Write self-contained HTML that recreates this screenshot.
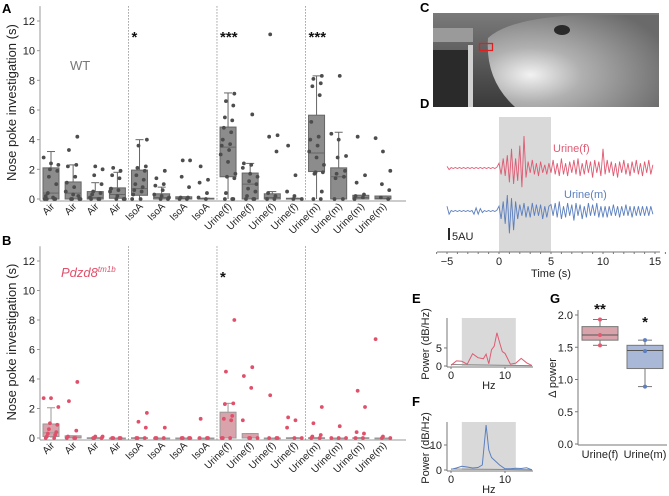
<!DOCTYPE html>
<html><head><meta charset="utf-8">
<style>
html,body{margin:0;padding:0;background:#fff;}
svg{display:block;font-family:"Liberation Sans",sans-serif;}
</style></head>
<body>
<svg id="fig" width="669" height="496" viewBox="0 0 669 496" xmlns="http://www.w3.org/2000/svg">
<g id="pA"></g>
<g id="pB"></g>
<g id="pC">
 <defs>
  <radialGradient id="mouseG" cx="0.25" cy="0.65" r="0.85">
   <stop offset="0" stop-color="#f2f2f2"/><stop offset="0.35" stop-color="#b0b0b0"/><stop offset="1" stop-color="#6a6a6a"/>
  </radialGradient>
  <linearGradient id="bgG" x1="0" y1="0" x2="0" y2="1">
   <stop offset="0" stop-color="#7a7a7a"/><stop offset="1" stop-color="#3a3a3a"/>
  </linearGradient>
 </defs>
 <rect x="433" y="13" width="226" height="94" fill="url(#bgG)"/>
 <rect x="433" y="28" width="40" height="14" fill="#9a9a9a"/>
 <rect x="433" y="50" width="40" height="57" fill="#2a2a2a"/>
 <rect x="468" y="45" width="5" height="62" fill="#d0d0d0"/>
 <path d="M488,38 Q510,18 580,15 L659,15 L659,107 L515,107 Q485,80 488,38 Z" fill="url(#mouseG)"/>
 <ellipse cx="562" cy="30" rx="8" ry="5" fill="#2a2a2a"/>
 <rect x="479.5" y="43.5" width="13" height="7" fill="none" stroke="#e02020" stroke-width="1.3"/>
</g>
<g id="pD"></g>
<g id="pE"></g>
<g id="pF"></g>
<g id="pG"></g>
<text x="2" y="13" font-size="13" font-weight="bold">A</text>
<text x="2" y="245" font-size="13" font-weight="bold">B</text>
<text x="420" y="12" font-size="13" font-weight="bold">C</text>
<text x="420" y="108" font-size="13" font-weight="bold">D</text>
<text x="412" y="303" font-size="13" font-weight="bold">E</text>
<text x="412" y="406" font-size="13" font-weight="bold">F</text>
<text x="550" y="303" font-size="13" font-weight="bold">G</text>
</svg>
<script>
var NS="http://www.w3.org/2000/svg";
// ---- Data: panels A/B ----
var categories=["Air","Air","Air","Air","IsoA","IsoA","IsoA","IsoA","Urine(f)","Urine(f)","Urine(f)","Urine(f)","Urine(m)","Urine(m)","Urine(m)","Urine(m)"];
var yTicksAB=[0,2,4,6,8,10,12];
var wtQ1=[0,0,0,0.05,0.25,0,0,0,1.5,0,0,0,1.85,0,0,0];
var wtMed=[0.4,0.4,0.1,0.3,0.7,0.1,0.05,0,3.5,1.0,0.1,0,3.1,1.5,0.1,0.05];
var wtQ3=[2.1,1.15,0.5,0.75,1.95,0.35,0.15,0.05,4.85,1.75,0.35,0.05,5.65,2.1,0.25,0.2];
var wtWhLo=[0,0,0,0,0,0,0,0,0,0,0,0,0,0,0,0];
var wtWhHi=[3.2,2.3,1.1,1.8,4.0,0.8,0.15,0.05,7.15,2.4,0.5,0.05,8.3,4.5,0.25,0.2];
var wtPoints=[
[2.8,2.4,2.3,2.0,1.9,1.5,1.0,0.4,0,0,0,0.2,0.1,0],
[4.2,3.3,2.3,2.2,1.5,1.1,0.8,0.5,0.3,0,0,0,0,0.2],
[2.2,2.0,1.6,1.0,0.5,0.4,0.3,0,0,0,0.1],
[2.1,1.9,1.6,1.4,0.7,0.6,0.5,0.2,0,0,0],
[4.0,3.6,2.2,2.1,1.9,1.6,1.3,1.0,0.8,0.6,0.5,0.3,0,0],
[1.9,1.4,1.0,0.9,0.6,0.3,0.2,0.1,0,0],
[2.6,2.6,1.5,0.8,0.1,0.1,0,0],
[2.2,1.3,1.1,0.4,0.1,0],
[7.1,6.6,6.3,5.5,5.3,4.8,4.5,4.0,3.7,3.6,3.3,3.0,2.5,1.7,1.5,1.4,0.4,0,0,0],
[5.7,2.4,2.3,2.1,1.7,1.5,1.2,1.0,0.7,0.5,0.2,0,0,0],
[11.1,4.3,4.2,3.2,0.4,0.2,0,0],
[3.6,1.6,0.5,0.2,0,0],
[8.3,8.1,7.8,7.6,7.0,5.2,4.2,4.0,3.6,3.2,2.8,2.3,1.8,1.8,1.7,0.5,0,0],
[8.3,4.4,4.0,2.9,2.8,1.9,1.7,1.5,1.4,0,0],
[4.2,1.6,1.1,0.3,0.2,0.1,0],
[4.1,3.2,1.9,1.0,0.6,0.1,0]];
var koQ1=[0.1,0,0,0,0,0,0,0,0,0,0,0,0,0,0,0];
var koMed=[0.35,0.05,0,0,0,0,0,0,0,0,0,0,0,0,0,0];
var koQ3=[0.95,0.15,0.02,0,0.02,0,0,0,1.75,0.3,0,0.02,0.02,0,0.02,0];
var koWhLo=[0,0,0,0,0,0,0,0,0,0,0,0,0,0,0,0];
var koWhHi=[2.05,0.15,0.02,0,0.02,0,0,0,2.35,0.3,0,0.02,0.02,0,0.02,0];
var koPoints=[
[2.7,2.7,2.1,1.0,0.9,0.6,0.4,0.3,0.2,0.1,0,0],
[3.8,2.5,0.5,0.1,0,0,0],
[0.1,0.1,0,0,0],
[0,0,0,0],
[1.7,1.1,0.7,0,0,0],
[0.7,0,0,0],
[0,0,0,0],
[1.3,0,0,0],
[8.0,4.5,2.35,2.3,1.5,1.3,1.2,0,0,0],
[4.8,4.2,3.4,1.2,0,0,0],
[2.9,0,0,0],
[1.4,1.2,0.7,0,0],
[2.1,1.0,0.2,0.1,0,0],
[0.8,0,0,0],
[3.2,2.1,0.4,0.3,0,0],
[6.7,0.1,0,0]];
// ---- Data: panel D ----
var traceTime0=-5, traceStep=0.2;
var traceF=[1,-1,0.3,-0.3,0.3,-0.3,0.3,-0.3,0.3,-0.3,0.3,-0.3,0.3,-0.3,0.3,-0.3,0.3,-0.3,0.3,-0.3,0.3,-0.3,0.3,-0.3,0.5,
3,-4,6,-5,8,-9,12,-10,6,-8,14,-12,20,-6,4,-3,5,-4,3,-5,4,-3,2,-4,3,
-3,5,-4,3,-5,6,-4,3,-5,4,-3,5,-4,6,-5,3,-4,5,-3,4,-6,5,-3,4,-5,12,-4,5,-3,4,-5,3,-6,4,-3,5,-4,3,-5,4,-3,5,-4,3,-5,4,-3,5,-4,2];
var traceM=[3,-2,0.3,-0.3,0.3,-0.3,0.3,-0.3,0.3,-0.3,0.3,-0.3,0.3,-2,2,-2,1.5,-1,0.3,-0.3,0.3,-0.3,0.3,-0.3,0.5,
3,-5,6,-8,10,-14,8,-12,6,-5,4,-3,5,-4,3,-4,5,-3,4,-3,4,-5,3,-4,3,
4,-3,5,-4,6,-5,3,-4,5,-3,4,-6,5,-3,4,-5,3,-4,5,-3,4,-3,5,-4,3,-4,3,-4,3,-3,4,-3,3,-4,3,-3,4,-3,3,-4,3,-3,3,-3,3,-3,3,-3,3,-2];
var timeTicks=[-5,0,5,10,15];
// ---- Data: panels E/F ----
var specHzE=[0,1,2,3,4,5,6,6.5,7,7.5,8,8.5,9,9.5,10,11,12,13,14,15];
var specE=[0.2,1.4,1.3,0.5,3.4,2.3,2.0,3.3,0.6,4.5,5.5,9.2,6.5,4.0,3.5,0.5,0.8,2.1,0.9,0.1];
var specHzF=[0,1,2,3,4,5,5.8,6.5,7,7.5,8,9,10,11,12,13,14,14.5,15];
var specF=[0.3,0.8,1.5,1.2,0.8,1.0,2,18,8,5,4,2,0.5,0.5,0.7,0.6,0.9,0.5,0.1];
var baseHz=[0,15];
var baseE=[0.4,0.1];
var baseF=[0.4,0.1];
// ---- Data: panel G ----
var gCats=["Urine(f)","Urine(m)"];
var gQ1=[1.61,1.17], gMed=[1.69,1.45], gQ3=[1.82,1.53], gLo=[1.53,0.89], gHi=[1.93,1.61];
var gPoints=[[1.93,1.69,1.53],[1.61,1.44,0.89]];
var gTicks=[0,0.5,1.0,1.5,2.0];

function mk(parent,tag,attrs,txt){var e=document.createElementNS(NS,tag);for(var k in attrs)e.setAttribute(k,attrs[k]);if(txt!==undefined)e.textContent=txt;parent.appendChild(e);return e;}

function boxPanel(gid,y0,yTop,q1,med,q3,lo,hi,pts,boxFill,boxStroke,dotColor,label,stars){
  var g=document.getElementById(gid);
  var yS=function(v){return y0-(y0-yTop)*v/12;};
  var xS=function(i){return 51+i*22.13;};
  var ax=mk(g,"line",{x1:40,y1:yS(13),x2:40,y2:y0+2,stroke:"#999","stroke-width":1});
  
  
  var bx=mk(g,"line",{x1:40,y1:y0+2,x2:406,y2:y0+2,stroke:"#999","stroke-width":1});
  
  
  yTicksAB.forEach(function(t){
    var tk=mk(g,"line",{x1:37,x2:40,y1:yS(t),y2:yS(t),stroke:"#999"});
    
    
    var tl=mk(g,"text",{x:35,y:yS(t)+4,"text-anchor":"end","font-size":11,fill:"#222"},t);
    
    
  });
  [3.5,7.5,11.5].forEach(function(d){
    var dl=mk(g,"line",{x1:xS(d),x2:xS(d),y1:yS(13),y2:y0+2,stroke:"#888","stroke-dasharray":"1.5,1.5","stroke-width":0.8});
    
    
  });
  var yt=mk(g,"text",{transform:"translate(16,"+((y0+yS(13))/2)+") rotate(-90)","text-anchor":"middle","font-size":13,fill:"#222"},"Nose poke investigation (s)");
  
  
  categories.forEach(function(c,i){
    var cx=xS(i), hw=8;
    var wl=mk(g,"line",{x1:cx,x2:cx,y1:yS(hi[i]),y2:yS(lo[i]),stroke:boxStroke,"stroke-width":1});
    
    
    var wc=mk(g,"line",{x1:cx-4,x2:cx+4,y1:yS(hi[i]),y2:yS(hi[i]),stroke:boxStroke,"stroke-width":1});
    
    
    var h=Math.max(yS(q1[i])-yS(q3[i]),0.8);
    var r=mk(g,"rect",{x:cx-hw,y:yS(q3[i]),width:2*hw,height:h,fill:boxFill,stroke:boxStroke,"stroke-width":1});
    
    
    var ml=mk(g,"line",{x1:cx-hw,x2:cx+hw,y1:yS(med[i]),y2:yS(med[i]),stroke:boxStroke,"stroke-width":1});
    
    
    pts[i].forEach(function(v,j){
      var jx=((j*37+i*11)%15-7)*1.05;
      var p=mk(g,"circle",{cx:cx+jx,cy:yS(v),r:1.9,fill:dotColor});
      
      
    });
    var lx=cx+4, ly=y0+8;
    var xl=mk(g,"text",{transform:"translate("+lx+","+ly+") rotate(-45)","text-anchor":"end","font-size":10,fill:"#222"},c);
    
    
  });
  stars.forEach(function(s){
    var st=mk(g,"text",{x:xS(s[0])-8,y:yS(11)+6,"font-size":15,"font-weight":"bold",fill:"#111"},s[1]);
    
    
  });
  return {g:g,yS:yS,xS:xS};
}
var A=boxPanel("pA",199,21,wtQ1,wtMed,wtQ3,wtWhLo,wtWhHi,wtPoints,"#8c8c8c","#666","#4d4d4d","WT",[[4,"*"],[8,"***"],[12,"***"]]);
var wt=mk(A.g,"text",{x:70,y:70,"font-size":13,fill:"#777"},"WT");


var B=boxPanel("pB",438,261,koQ1,koMed,koQ3,koWhLo,koWhHi,koPoints,"#d9a3ab","#999","#e0506a","",[[8,"*"]]);
var pz=mk(B.g,"text",{x:61,y:277,"font-size":13,"font-style":"italic",fill:"#e0506a"});


pz.innerHTML='Pdzd8<tspan font-size="8" dy="-5">tm1b</tspan>';

// Panel D
(function(){
  var g=document.getElementById("pD");
  var xS=function(t){return 447+(t+5)*(655-447)/20;};
  var sh=mk(g,"rect",{x:xS(0),y:117,width:xS(5)-xS(0),height:135,fill:"#d9d9d9"});
  
  
  function trace(arr,base,col,name){
    var d=arr.map(function(v,i){return (i?"L":"M")+xS(traceTime0+i*traceStep).toFixed(1)+","+(base-v*1.6).toFixed(1);}).join("");
    var p=mk(g,"path",{d:d,fill:"none",stroke:col,"stroke-width":0.9});
    
    
  }
  trace(traceF,168,"#e05a72","trace-urine-f");
  trace(traceM,211,"#5b7fbf","trace-urine-m");
  var l1=mk(g,"text",{x:553,y:152,"font-size":11,fill:"#e05a72"},"Urine(f)");
  
  
  var l2=mk(g,"text",{x:564,y:198,"font-size":11,fill:"#5b7fbf"},"Urine(m)");
  
  
  var sb=mk(g,"line",{x1:449,x2:449,y1:228,y2:240,stroke:"#111","stroke-width":1.8});
  
  
  var sbl=mk(g,"text",{x:452,y:240,"font-size":11,fill:"#222"},"5AU");
  
  
  var ax=mk(g,"line",{x1:437,x2:660,y1:252,y2:252,stroke:"#777"});
  
  
  for(var t=-6;t<=16;t++){
    var mt=mk(g,"line",{x1:xS(t),x2:xS(t),y1:252,y2:254,stroke:"#777"});
    
    
  }
  timeTicks.forEach(function(t){
    var tl=mk(g,"text",{x:xS(t),y:265,"text-anchor":"middle","font-size":11,fill:"#222"},t<0?"\u2212"+(-t):t);
    
    
  });
  var xt=mk(g,"text",{x:xS(5),y:277,"text-anchor":"middle","font-size":11,fill:"#222"},"Time (s)");
  
  
})();

// Panels E/F
function spectrum(gid,top,bot,ymax,ticks,hz,vals,col){
  var g=document.getElementById(gid);
  var xS=function(h){return 451+h*5.4;};
  var yS=function(v){return bot-v*(bot-top)/ymax;};
  var sh=mk(g,"rect",{x:xS(2),y:top,width:xS(12)-xS(2),height:bot-top,fill:"#d9d9d9"});
  
  
  var bl=mk(g,"path",{d:baseHz.map(function(h,i){return (i?"L":"M")+xS(h)+","+yS(gid=="pE"?baseE[i]:baseF[i]);}).join(""),stroke:"#888","stroke-width":1,fill:"none"});
  
  
  var p=mk(g,"path",{d:hz.map(function(h,i){return (i?"L":"M")+xS(h).toFixed(1)+","+yS(vals[i]).toFixed(1);}).join(""),stroke:col,"stroke-width":1,fill:"none"});
  
  
  var ay=mk(g,"line",{x1:447,x2:447,y1:top,y2:bot+1,stroke:"#777"});
  
  
  var ax=mk(g,"line",{x1:447,x2:533,y1:bot+1,y2:bot+1,stroke:"#777"});
  
  
  ticks.forEach(function(t){
    var tk=mk(g,"line",{x1:444,x2:447,y1:yS(t),y2:yS(t),stroke:"#777"});
    
    
    var tl=mk(g,"text",{x:442,y:yS(t)+4,"text-anchor":"end","font-size":11,fill:"#222"},t);
    
    
  });
  [0,10].forEach(function(h){
    var tk=mk(g,"line",{x1:xS(h),x2:xS(h),y1:bot+1,y2:bot+3,stroke:"#777"});
    
    
    var tl=mk(g,"text",{x:xS(h),y:bot+13,"text-anchor":"middle","font-size":11,fill:"#222"},h);
    
    
  });
  var xt=mk(g,"text",{x:xS(7),y:bot+23,"text-anchor":"middle","font-size":11,fill:"#222"},"Hz");
  
  
  var yt=mk(g,"text",{transform:"translate(429,"+((top+bot)/2+2)+") rotate(-90)","text-anchor":"middle","font-size":11,fill:"#222"},"Power (dB/Hz)");
  
  
}
spectrum("pE",318,366,13.3,[0,5],specHzE,specE,"#e05a72");
spectrum("pF",422,470,19.2,[0,10],specHzF,specF,"#5b7fbf");

// Panel G
(function(){
  var g=document.getElementById("pG");
  var yS=function(v){return 444-v*64.5;};
  var xC=[600,645];
  var fills=["#d9a3ab","#a9b8d6"], cols=["#e05a72","#5b7fbf"];
  var ay=mk(g,"line",{x1:578,x2:578,y1:310,y2:445,stroke:"#777"});
  
  
  var ax=mk(g,"line",{x1:578,x2:667,y1:445,y2:445,stroke:"#777"});
  
  
  gTicks.forEach(function(t){
    var tk=mk(g,"line",{x1:575,x2:578,y1:yS(t),y2:yS(t),stroke:"#777"});
    
    
    var tl=mk(g,"text",{x:573,y:yS(t)+4,"text-anchor":"end","font-size":11,fill:"#222"},t.toFixed(1));
    
    
  });
  var yt=mk(g,"text",{transform:"translate(556,378) rotate(-90)","text-anchor":"middle","font-size":11,fill:"#222"},"\u0394 power");
  
  
  gCats.forEach(function(c,i){
    var cx=xC[i];
    var w=mk(g,"line",{x1:cx,x2:cx,y1:yS(gHi[i]),y2:yS(gLo[i]),stroke:"#777"});
    
    
    [gHi[i],gLo[i]].forEach(function(v){
      var cp=mk(g,"line",{x1:cx-7,x2:cx+7,y1:yS(v),y2:yS(v),stroke:"#777"});
      
      
    });
    var r=mk(g,"rect",{x:cx-18,y:yS(gQ3[i]),width:36,height:yS(gQ1[i])-yS(gQ3[i]),fill:fills[i],stroke:"#777"});
    
    
    var m=mk(g,"line",{x1:cx-18,x2:cx+18,y1:yS(gMed[i]),y2:yS(gMed[i]),stroke:"#555"});
    
    
    gPoints[i].forEach(function(v){
      var p=mk(g,"circle",{cx:cx,cy:yS(v),r:2,fill:cols[i]});
      
      
    });
    var tl=mk(g,"text",{x:cx,y:458,"text-anchor":"middle","font-size":11,fill:"#222"},c);
    
    
  });
  var s1=mk(g,"text",{x:600,y:314,"text-anchor":"middle","font-size":15,"font-weight":"bold",fill:"#111"},"**");
  
  
  var s2=mk(g,"text",{x:645,y:327,"text-anchor":"middle","font-size":15,"font-weight":"bold",fill:"#111"},"*");
  
  
})();
</script>
</body></html>
